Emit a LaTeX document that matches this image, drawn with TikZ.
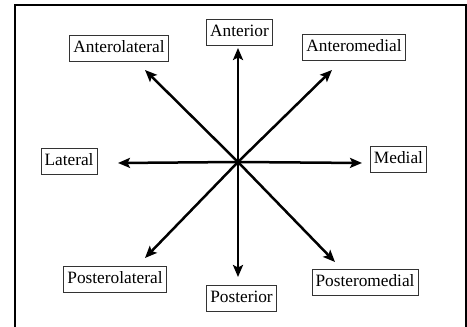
\documentclass[tikz,border=0pt]{standalone}
\usepackage{fontspec}
\setmainfont{Liberation Serif}
\usetikzlibrary{arrows.meta}
\begin{document}
\begin{tikzpicture}[x=1pt,y=1pt,
  lbl/.style={draw=black!80, line width=0.9pt, font=\fontsize{17.3}{19}\selectfont,
    inner xsep=3.5pt, inner ysep=0pt, minimum height=26pt, text height=12pt, text depth=3.5pt},
  dirarrow/.style={line width=2.5pt, -{Stealth[length=12pt,width=10pt,inset=2.5pt]}}]
\useasboundingbox (0,0) rectangle (467,327);
\draw[line width=2pt] (15,-5) -- (15,322) -- (466,322) -- (466,-5);
% labels
\node[lbl] (ant)  at (239.5,294.5) {Anterior};
\node[lbl] (antl) at (119,278.5) {Anterolateral};
\node[lbl] (antm) at (354,280) {Anteromedial};
\node[lbl] (lat)  at (69,165.5) {Lateral};
\node[lbl] (med)  at (398.5,167.5) {Medial};
\node[lbl] (postl) at (115,47.5) {Posterolateral};
\node[lbl] (post) at (241.5,29) {Posterior};
\node[lbl] (postm) at (365,45) {Posteromedial};
% centre
\node[circle, fill=black, inner sep=0pt, minimum size=6pt] (c) at (238,165) {};
% arrow tips
\coordinate (tN)  at (238,279);
\coordinate (tNW) at (145,257);
\coordinate (tNE) at (332,257);
\coordinate (tW)  at (118,164);
\coordinate (tE)  at (362,164);
\coordinate (tSW) at (145,69);
\coordinate (tS)  at (238,50);
\coordinate (tSE) at (335,65);
\foreach \t in {tN,tNW,tNE,tW,tE,tSW,tS,tSE}
  \draw[dirarrow] (c.center) -- (\t);
\end{tikzpicture}
\end{document}
